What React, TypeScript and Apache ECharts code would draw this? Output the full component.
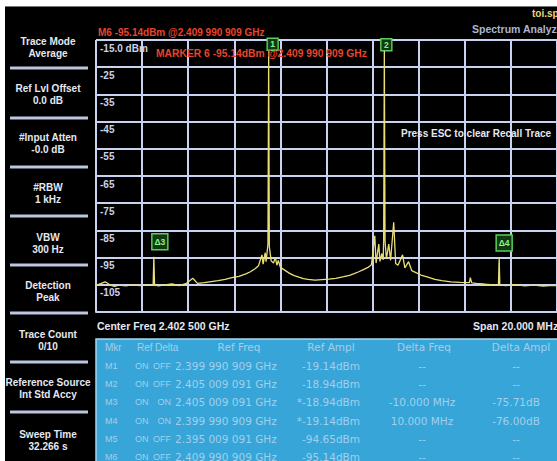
import React, { useEffect, useRef } from "react";
import * as echarts from "echarts";

// ---------- data ----------
const centerFreqMHz = 2402.5;
const spanMHz = 20;

// trace: frequency offset from centre (MHz) and level (dBm)
const traceFreqOffsetMHz = [
  -10.0, -9.8, -9.6, -9.4, -9.2, -9.0, -8.7, -8.4, -8.1, -7.8, -7.6, -7.52, -7.491, -7.46, -7.3, -7.0,
  -6.7, -6.4, -6.1, -5.8, -5.6, -5.3, -5.0, -4.7, -4.4, -4.1, -3.8, -3.5, -3.3, -3.1, -2.95, -2.8,
  -2.75, -2.66, -2.62, -2.54, -2.509, -2.48, -2.4, -2.3, -2.22, -2.15, -2.09, -2.0, -1.8, -1.6, -1.4,
  -1.2, -1.0, -0.8, -0.5, -0.2, 0.1, 0.4, 0.7, 1.0, 1.2, 1.4, 1.6, 1.8, 1.95, 2.095, 2.15, 2.268,
  2.32, 2.4, 2.46, 2.48, 2.509, 2.54, 2.6, 2.7, 2.78, 2.916, 3.0, 3.1, 3.3, 3.4, 3.56, 3.7, 3.9, 4.1,
  4.4, 4.7, 5.0, 5.4, 5.8, 6.2, 6.24, 6.3, 6.5, 6.9, 7.2, 7.46, 7.491, 7.52, 7.8, 8.2, 8.6, 9.0, 9.4,
  9.8, 10.0,
];
const traceLevelDbm = [
  -105.2, -104.6, -103.9, -105.0, -105.6, -105.1, -105.4, -104.9, -105.3, -105.0, -105.2, -104.8, -94.65, -104.9, -105.4, -105.0,
  -104.7, -105.3, -104.6, -102.6, -104.5, -104.2, -103.8, -103.5, -103.0, -102.4, -101.9, -101.0, -100.2, -99.1, -98.0, -94.0,
  -97.4, -93.2, -96.5, -90.0, -19.14, -91.0, -96.2, -97.0, -95.0, -97.8, -96.0, -98.6, -99.7, -100.8, -101.6,
  -102.2, -102.7, -103.0, -103.3, -103.1, -102.9, -102.6, -102.1, -101.5, -100.9, -100.2, -99.4, -98.6, -97.6, -87.0, -97.0, -90.0,
  -96.4, -93.5, -95.8, -88.0, -18.94, -89.0, -95.5, -90.0, -96.0, -82.0, -97.2, -97.8, -94.0, -98.8, -96.5, -99.8, -100.6, -101.4,
  -102.2, -103.0, -103.5, -103.9, -104.1, -104.2, -102.4, -104.3, -104.5, -104.8, -105.0, -104.9, -95.14, -105.1, -105.3, -104.9, -105.4, -105.1, -105.5,
  -105.2, -105.3,
];

const markerNames = ["1", "2", "Δ3", "Δ4"];
const markerFreqGHz = [2.399990909, 2.405009091, 2.395009091, 2.409990909];
const markerLevelDbm = [-19.14, -18.94, -94.65, -95.14];

const yTickLabels = ["", "-105", "-95", "-85", "-75", "-65", "-55", "-45", "-35", "-25", "-15.0 dBm"];

const softkeyTitles = [
  "Trace Mode", "Ref Lvl Offset", "#Input Atten", "#RBW", "VBW", "Detection", "Trace Count", "Reference Source", "Sweep Time",
];
const softkeyValues = ["Average", "0.0 dB", "-0.0 dB", "1 kHz", "300 Hz", "Peak", "0/10", "Int Std Accy", "32.266 s"];

const tableHeader = ["Mkr", "Ref", "Delta", "Ref Freq", "Ref Ampl", "Delta Freq", "Delta Ampl"];
const tableRows = [
  ["M1", "ON", "OFF", "2.399 990 909 GHz", "-19.14dBm", "--", "--"],
  ["M2", "ON", "OFF", "2.405 009 091 GHz", "-18.94dBm", "--", "--"],
  ["M3", "ON", "ON", "2.405 009 091 GHz", "*-18.94dBm", "-10.000 MHz", "-75.71dB"],
  ["M4", "ON", "ON", "2.399 990 909 GHz", "*-19.14dBm", "10.000 MHz", "-76.00dB"],
  ["M5", "ON", "OFF", "2.395 009 091 GHz", "-94.65dBm", "--", "--"],
  ["M6", "ON", "OFF", "2.409 990 909 GHz", "-95.14dBm", "--", "--"],
];

const activeMarkerText = "M6 -95.14dBm @2.409 990 909 GHz";
const markerMessage = "MARKER 6 -95.14dBm @2.409 990 909 GHz";
const centerText = "Center Freq 2.402 500 GHz";
const spanText = "Span 20.000 MHz";
const escText = "Press ESC to clear Recall Trace";

// ---------- styles ----------
const GRID_COLOR = "#c9d2f0";
const TRACE_COLOR = "#e9df76";
const RED = "#e8452c";
const WHITE = "#e6e8f0";
const BOLD = (s: number) => `bold ${s}px "Liberation Sans", Arial, sans-serif`;

function txt(x: number, y: number, text: string, fill: string, font: string, align = "left") {
  return {
    type: "text",
    x,
    y,
    z: 50,
    style: { text, fill, font, align, verticalAlign: "middle", textAlign: align, textVerticalAlign: "middle" },
  };
}

export default function App() {
  const ref = useRef<HTMLDivElement>(null);

  useEffect(() => {
    if (!ref.current) return;
    const chart = echarts.init(ref.current, undefined, { renderer: "svg" });

    const graphics: any[] = [];
    // white outer frame
    graphics.push({ type: "rect", shape: { x: 0, y: 0, width: 557, height: 6 }, style: { fill: "#ffffff" }, z: 60 });
    graphics.push({ type: "rect", shape: { x: 0, y: 0, width: 5, height: 461 }, style: { fill: "#ffffff" }, z: 60 });
    graphics.push({ type: "line", shape: { x1: 5, y1: 6.5, x2: 557, y2: 6.5 }, style: { stroke: "#777", lineWidth: 1 }, z: 60 });

    // soft keys
    const titleY = [41, 88, 137, 187, 237, 285, 334, 382, 434];
    const sepY = [68, 118, 167, 216, 265, 313, 362, 412];
    softkeyTitles.forEach((t, i) => {
      graphics.push(txt(48, titleY[i], t, WHITE, BOLD(10), "center"));
      graphics.push(txt(48, titleY[i] + 12.5, softkeyValues[i], WHITE, BOLD(10), "center"));
    });
    sepY.forEach((y) => {
      graphics.push({ type: "rect", shape: { x: 10, y: y - 1.5, width: 78, height: 3 }, style: { fill: "#bcc6e0" }, z: 50 });
    });

    // header texts
    graphics.push(txt(98, 32, activeMarkerText, RED, BOLD(10)));
    graphics.push(txt(156, 53, markerMessage, RED, BOLD(10.3)));
    graphics.push(txt(532, 13, "toi.sp", "#e6d77a", BOLD(10)));
    graphics.push(txt(472, 29, "Spectrum Analyzer", "#a9b6d2", BOLD(10.5)));
    graphics.push(txt(401, 133, escText, WHITE, BOLD(10)));
    graphics.push(txt(97, 326, centerText, WHITE, BOLD(10.5)));
    graphics.push(txt(473, 326, spanText, WHITE, BOLD(10.5)));

    // marker table
    graphics.push({ type: "rect", shape: { x: 96, y: 339, width: 470, height: 130 }, style: { fill: "#38a5d8", stroke: "#a8d8f0", lineWidth: 1.5 }, z: 40 });
    const TBL = "#a0d0ec";
    const TF = '10.5px "DejaVu Sans", sans-serif';
    const TS = '9px "Liberation Sans", Arial, sans-serif';
    const headX = [105, 137, 155, 239, 331, 424, 521];
    const headAlign = ["left", "left", "left", "center", "center", "center", "center"];
    tableHeader.forEach((h, c) => graphics.push(txt(headX[c], 347, h, TBL, c < 3 ? '10px "Liberation Sans", Arial, sans-serif' : TF, headAlign[c])));
    const colX = [105, 135, 171, 175, 360, 422, 516];
    const colAlign = ["left", "left", "right", "left", "right", "center", "center"];
    const rowY = [366, 384, 402, 421, 439, 457];
    tableRows.forEach((row, r) => {
      row.forEach((cell, c) => graphics.push(txt(colX[c], rowY[r], cell, TBL, c < 3 ? TS : TF, colAlign[c])));
    });

    const markerOffsets = [[4, -7], [2, -6], [6, -15], [5, -15]];
    const markerSizes = [[11, 12], [11, 12], [16, 16], [16, 16]];

    chart.setOption({
      animation: false,
      backgroundColor: "#000000",
      grid: { left: 96, top: 40, width: 463, height: 272, containLabel: false },
      xAxis: {
        type: "value",
        min: -spanMHz / 2,
        max: spanMHz / 2,
        interval: 2,
        axisLine: { show: true, lineStyle: { color: GRID_COLOR, width: 2 } },
        axisTick: { show: false },
        axisLabel: { show: false },
        splitLine: { show: true, lineStyle: { color: GRID_COLOR, width: 2 } },
      },
      yAxis: {
        type: "value",
        min: -115,
        max: -15,
        interval: 10,
        axisLine: { show: true, lineStyle: { color: GRID_COLOR, width: 2 } },
        axisTick: { show: false },
        splitLine: { show: true, lineStyle: { color: GRID_COLOR, width: 2 } },
        axisLabel: {
          inside: true,
          margin: 4,
          showMinLabel: true,
          showMaxLabel: true,
          align: "left",
          verticalAlign: "top",
          padding: [3, 0, 0, 0],
          color: "#ccd2ea",
          fontFamily: "Liberation Sans",
          fontWeight: "bold",
          fontSize: 10,
          formatter: (_v: number, i: number) => yTickLabels[i] ?? "",
        },
      },
      series: [
        {
          type: "line",
          data: traceFreqOffsetMHz.map((f, i) => [f, traceLevelDbm[i]]),
          symbol: "none",
          lineStyle: { color: TRACE_COLOR, width: 1.3 },
          z: 5,
          markPoint: {
            symbol: "rect",
            itemStyle: { color: "#123a12", borderColor: "#5ccc5c", borderWidth: 1.5 },
            label: { show: true, formatter: "{b}", color: "#8ef08e", fontSize: 8.5, fontWeight: "bold", position: "inside" },
            data: markerNames.map((n, i) => ({
              name: n,
              coord: [markerFreqGHz[i] * 1000 - centerFreqMHz, markerLevelDbm[i]],
              symbolSize: markerSizes[i],
              symbolOffset: markerOffsets[i],
            })),
          },
        },
      ],
      graphic: graphics,
    });

    return () => chart.dispose();
  }, []);

  return (
    <div
      ref={ref}
      style={{ position: "fixed", left: 0, top: 0, width: 557, height: 461, overflow: "hidden" }}
    />
  );
}
